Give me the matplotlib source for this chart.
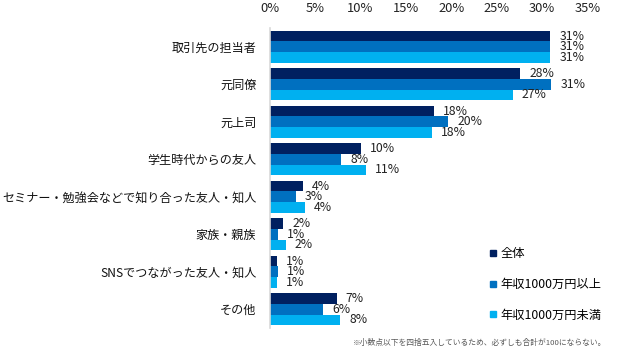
import matplotlib
matplotlib.use("Agg")
import matplotlib.pyplot as plt
from matplotlib.lines import Line2D
import numpy as np

plt.rcParams['font.family'] = ['Noto Sans CJK JP', 'DejaVu Sans']

categories = ["取引先の担当者", "元同僚", "元上司", "学生時代からの友人",
              "セミナー・勉強会などで知り合った友人・知人", "家族・親族",
              "SNSでつながった友人・知人", "その他"]
series_names = ["全体", "年収1000万円以上", "年収1000万円未満"]
total = [30.9, 27.6, 18.1, 10.1, 3.7, 1.5, 0.8, 7.4]
high = [30.9, 31.0, 19.7, 7.9, 2.9, 0.9, 0.9, 5.9]
low = [30.9, 26.8, 17.9, 10.6, 3.9, 1.8, 0.8, 7.8]
colors = ["#002060", "#0070C0", "#00B0F0"]
xticks = [0, 5, 10, 15, 20, 25, 30, 35]
note = "※小数点以下を四捨五入しているため、必ずしも合計が100にならない。"

W, H = 625, 351
fig = plt.figure(figsize=(W / 100, H / 100), dpi=100)
left, right, top, bottom = 269.5, 587.5, 28, 328
ax = fig.add_axes([left / W, 1 - bottom / H, (right - left) / W, (bottom - top) / H])

y = np.arange(len(categories))
bh = 0.282
for i, (vals, c) in enumerate(zip([total, high, low], colors)):
    pos = y + (i - 1) * bh
    ax.barh(pos, vals, height=bh, color=c, zorder=2)
    for p, v in zip(pos, vals):
        ax.annotate(f"{round(v)}%", xy=(v, p), xytext=(6.5, 0), textcoords="offset points",
                    va="center", ha="left", fontsize=8.8, color="#222222")

ax.set_xlim(0, 35)
ax.set_ylim(len(categories) - 0.5, -0.5)
ax.set_xticks(xticks)
ax.set_xticklabels([f"{t}%" for t in xticks], fontsize=9.3, color="#222222")
ax.xaxis.tick_top()
ax.tick_params(axis="x", length=0, pad=9)
ax.set_yticks(y)
ax.set_yticklabels(categories, fontsize=8.7, color="#111111")
ax.tick_params(axis="y", length=0, pad=9.5)
for s in ["top", "right", "bottom"]:
    ax.spines[s].set_visible(False)
ax.spines["left"].set_color("#d9d9d9")
ax.spines["left"].set_linewidth(1.2)

handles = [Line2D([0], [0], marker="s", linestyle="none", markersize=4.5,
                  markerfacecolor=c, markeredgecolor=c) for c in colors]
fig.legend(handles, series_names, loc="upper left",
           bbox_to_anchor=(483 / W, 1 - 241 / H), frameon=False,
           fontsize=8.8, handlelength=0.6, handletextpad=0.3,
           labelspacing=1.45, borderpad=0)

fig.text(606 / W, 1 - 343 / H, note, ha="right", va="center", fontsize=5.6, color="#595959")

fig.savefig("out.png", dpi=100)
